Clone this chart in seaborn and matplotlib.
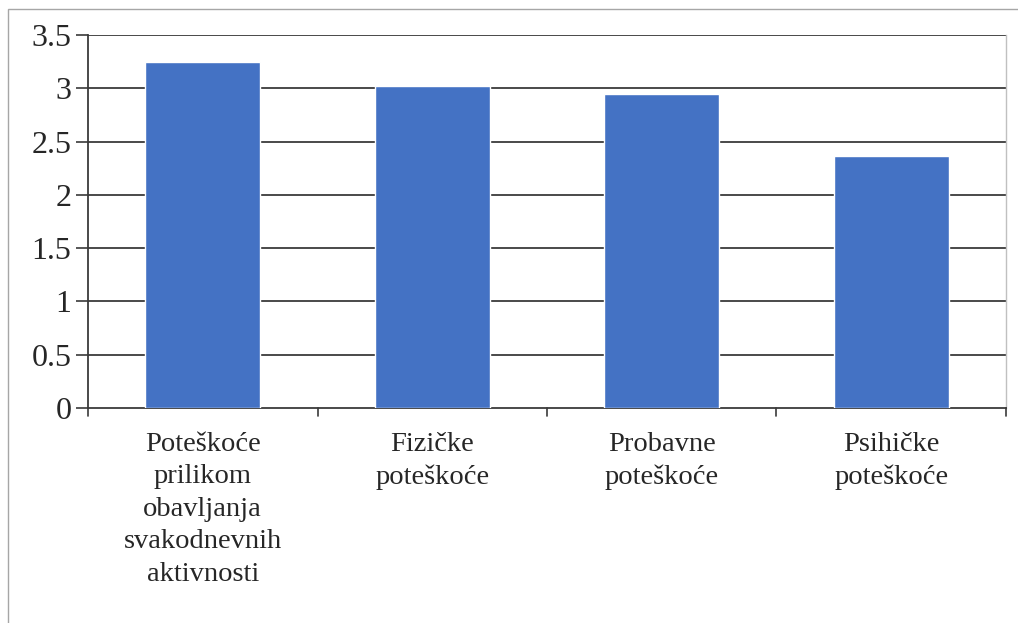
import matplotlib
matplotlib.use("Agg")
import matplotlib.pyplot as plt
import seaborn as sns
import pandas as pd
from matplotlib.patches import Rectangle

# data
categories = [
    "Poteškoće\nprilikom\nobavljanja\nsvakodnevnih\naktivnosti",
    "Fizičke\npoteškoće",
    "Probavne\npoteškoće",
    "Psihičke\npoteškoće",
]
values = [3.25, 3.02, 2.95, 2.36]
y_ticks = [0, 0.5, 1, 1.5, 2, 2.5, 3, 3.5]
y_tick_labels = ["0", "0.5", "1", "1.5", "2", "2.5", "3", "3.5"]

sns.set_style("white")
plt.rcParams["font.family"] = ["Liberation Serif", "DejaVu Serif"]

df = pd.DataFrame({"category": categories, "value": values})

fig = plt.figure(figsize=(10.18, 6.23), dpi=100)
ax = fig.add_axes([88 / 1018, 1 - 408 / 623, (1006 - 88) / 1018, (408 - 35) / 623])

sns.barplot(data=df, x="category", y="value", color="#4472C4", width=0.5,
            saturation=1, ax=ax, zorder=3)

ax.set_ylim(0, 3.5)
ax.set_xlim(-0.5, len(categories) - 0.5)
ax.set_yticks(y_ticks)
ax.set_yticklabels(y_tick_labels, fontsize=23)
ax.set_xlabel("")
ax.set_ylabel("")

# gridlines
for y in y_ticks[1:]:
    ax.axhline(y, color="#3a3a3a", lw=1.3, zorder=1)

# category tick marks at boundaries
ax.set_xticks(range(len(categories)))
ax.set_xticklabels(categories, fontsize=20.5, linespacing=1.4, va="top")
ax.tick_params(axis="x", length=0, pad=17)
for b in [x - 0.5 for x in range(len(categories) + 1)]:
    ax.plot([b, b], [0, -0.075], color="#3a3a3a", lw=1.2, clip_on=False, zorder=4)

ax.tick_params(axis="y", length=9, width=1.2, color="#3a3a3a", direction="out", pad=3, left=True)
for s in ["left", "bottom"]:
    ax.spines[s].set_color("#3a3a3a")
    ax.spines[s].set_linewidth(1.3)
ax.spines["top"].set_visible(False)
ax.spines["right"].set_color("#c0c0c0")
ax.spines["right"].set_linewidth(1.0)

# outer chart frame (partly cropped in the reference)
fig.patches.append(Rectangle((8 / 1018, -0.1), 1.2, 1.1 - 9 / 623, transform=fig.transFigure,
                             fill=False, edgecolor="#a6a6a6", lw=1.0))

fig.savefig("out.png", dpi=100)
